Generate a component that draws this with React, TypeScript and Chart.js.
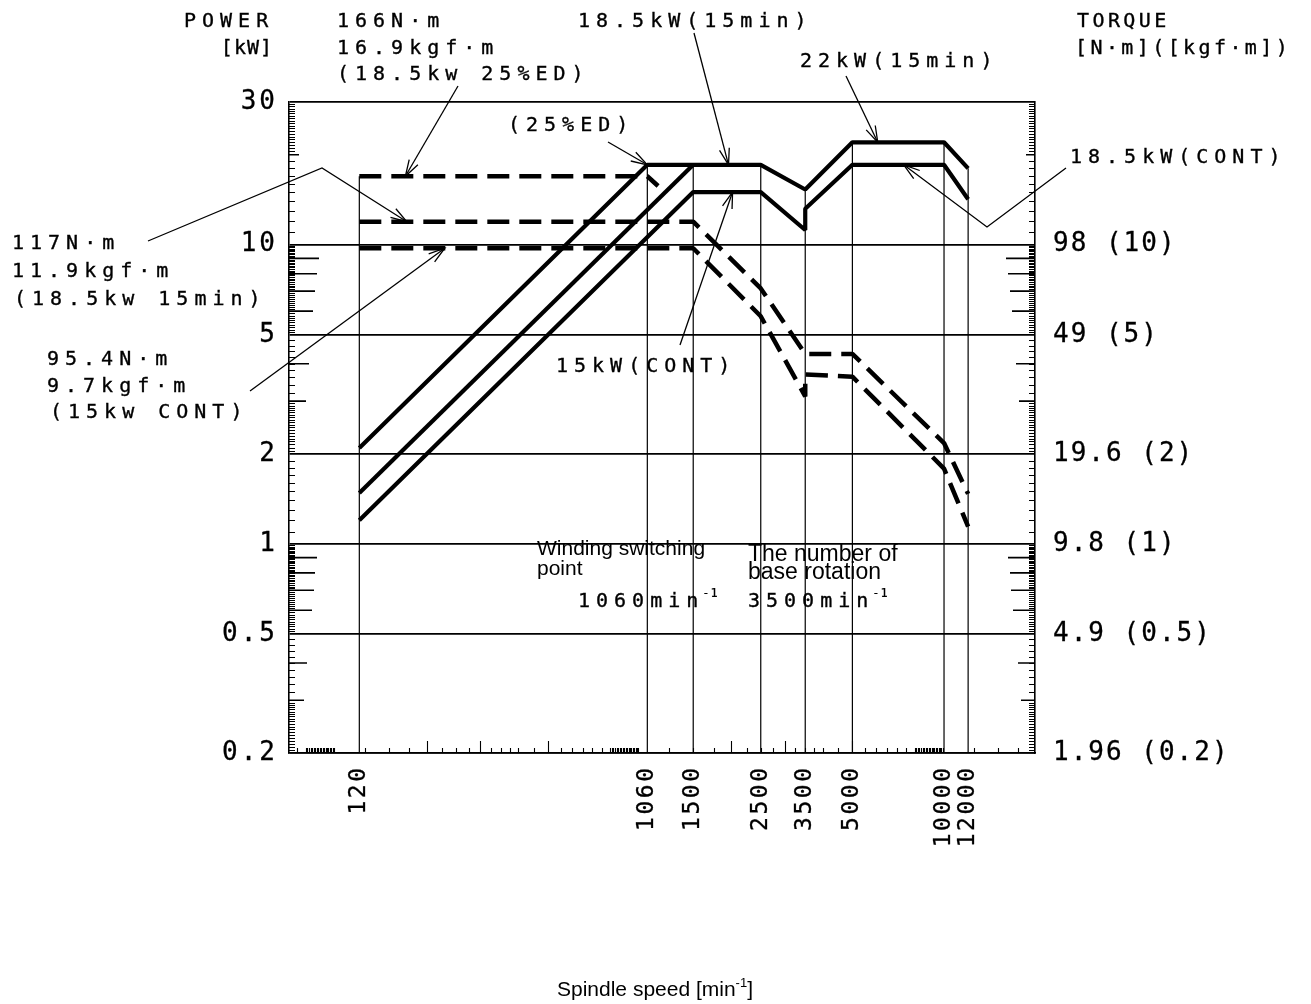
import React, { useEffect, useRef } from 'react';
import { Chart, registerables } from 'chart.js';

Chart.register(...registerables);

// ---------- axis ticks ----------
const speedTicks = [120, 1060, 1500, 2500, 3500, 5000, 10000, 12000];
const speedTickLabels = ['120', '1060', '1500', '2500', '3500', '5000', '10000', '12000'];
const powerTicks = [30, 10, 5, 2, 1, 0.5, 0.2];
const powerTickLabels = ['30', '10', '5', '2', '1', '0.5', '0.2'];
const torqueTicks = [98, 49, 19.6, 9.8, 4.9, 1.96];
const torqueTickLabels = ['98 (10)', '49 (5)', '19.6 (2)', '9.8 (1)', '4.9 (0.5)', '1.96 (0.2)'];

// ---------- power curves [kW] ----------
const ed25Speed = [120, 1060, 2500, 3500, 5000, 10000, 12000];
const ed25Power = [2.09, 18.5, 18.5, 15.3, 22, 22, 18];
const min15Speed = [120, 1500];
const min15Power = [1.48, 18.5];
const contSpeed = [120, 1500, 2500, 3500, 3500, 5000, 10000, 12000];
const contPower = [1.2, 15, 15, 11.2, 13.2, 18.5, 18.5, 14.2];

// ---------- torque curves [N·m] ----------
const ed25TorqueSpeed = [120, 1060, 1150];
const ed25Torque = [166, 166, 154];
const min15TorqueSpeed = [120, 1500, 2500, 3500, 5000, 10000, 12000];
const min15Torque = [117, 117, 70, 42.3, 42.3, 21.3, 14.4];
const contTorqueSpeed = [120, 1500, 2500, 3500, 3500, 5000, 10000, 12000];
const contTorque = [95.4, 95.4, 56.5, 30.5, 36.1, 35.5, 17.5, 11.2];

// ---------- vertical guide lines (speed, top power value) ----------
const guideSpeed = [120, 1060, 1500, 2500, 3500, 5000, 10000, 12000];
const guideTop = [16.94, 18.5, 18.5, 18.5, 15.3, 22, 22, 18];

// ---------- axis ranges ----------
const speedMin = 70.5;
const speedMax = 19900;
const powerMin = 0.2;
const powerMax = 30;
const torqueFactor = 9.8;

const MONO = 'DejaVu Sans Mono';
const SANS = 'Liberation Sans';

type Pt = { x: number; y: number };
const pts = (xs: number[], ys: number[]): Pt[] => xs.map((x, i) => ({ x, y: ys[i] }));

const solid = (label: string, xs: number[], ys: number[]) => ({
  label,
  data: pts(xs, ys),
  yAxisID: 'y',
  borderColor: '#000',
  backgroundColor: '#000',
  borderWidth: 4.2,
  pointRadius: 0,
  showLine: true,
  fill: false,
  borderJoinStyle: 'bevel',
});

const dashed = (label: string, xs: number[], ys: number[]) => ({
  label,
  data: pts(xs, ys),
  yAxisID: 'y2',
  borderColor: '#000',
  backgroundColor: '#000',
  borderWidth: 4.5,
  borderDash: [22, 10],
  pointRadius: 0,
  showLine: true,
  fill: false,
  borderJoinStyle: 'bevel',
});

const guides = guideSpeed.map((s, i) => ({
  label: 'guide' + i,
  data: [
    { x: s, y: powerMin },
    { x: s, y: guideTop[i] },
  ],
  yAxisID: 'y',
  borderColor: '#000',
  borderWidth: 1.2,
  pointRadius: 0,
  showLine: true,
  fill: false,
}));

// text annotations (pixel anchors, left aligned, vertical centre)
const notes: [string, number, number][] = [
  ['POWER', 184, 22],
  ['166N·m', 337, 22],
  ['16.9kgf·m', 337, 49],
  ['(18.5kw 25%ED)', 337, 75],
  ['18.5kW(15min)', 578, 22],
  ['22kW(15min)', 800, 62],
  ['(25%ED)', 508, 126],
  ['18.5kW(CONT)', 1070, 158],
  ['117N·m', 12, 244],
  ['11.9kgf·m', 12, 272],
  ['(18.5kw 15min)', 14, 300],
  ['95.4N·m', 47, 360],
  ['9.7kgf·m', 47, 387],
  ['(15kw CONT)', 50, 413],
  ['15kW(CONT)', 556, 367],
];

// leader lines: pixel start points + tip in data space
type Leader = { from: [number, number][]; speed: number; value: number; axis: 'y' | 'y2' };
const leaders: Leader[] = [
  { from: [[458, 86]], speed: 170, value: 166, axis: 'y2' },
  { from: [[148, 241], [322, 168]], speed: 172, value: 117, axis: 'y2' },
  { from: [[250, 391]], speed: 229, value: 95.4, axis: 'y2' },
  { from: [[608, 142]], speed: 1060, value: 18.5, axis: 'y' },
  { from: [[694, 33]], speed: 1959, value: 18.5, axis: 'y' },
  { from: [[846, 76]], speed: 6057, value: 22, axis: 'y' },
  { from: [[1066, 168], [987, 227]], speed: 7370, value: 18.5, axis: 'y' },
  { from: [[680, 345]], speed: 2020, value: 15, axis: 'y' },
];

const decorPlugin = {
  id: 'decor',
  beforeDraw(chart: any) {
    const { ctx, width, height } = chart;
    ctx.save();
    ctx.fillStyle = '#fff';
    ctx.fillRect(0, 0, width, height);
    ctx.restore();
  },
  afterDraw(chart: any) {
    const { ctx, chartArea: ca, scales } = chart;
    const xs = scales.x;
    const ys = scales.y;
    const ys2 = scales.y2;
    ctx.save();
    ctx.strokeStyle = '#000';
    ctx.fillStyle = '#000';

    // ---- ruler ticks on left / right edges ----
    const sideVals: number[] = [];
    for (let e = -1; e <= 1; e++) {
      const d = Math.pow(10, e);
      for (let i = 11; i < 20; i++) sideVals.push((i / 10) * d);
      for (let i = 41; i < 60; i++) sideVals.push((i / 20) * d);
      for (let i = 16; i < 25; i++) sideVals.push((i / 5) * d);
      for (let i = 51; i < 100; i++) sideVals.push((i / 10) * d);
    }
    const longLeft: [number, number][] = [
      [0.3, 15], [0.4, 18], [0.6, 23], [0.7, 25], [0.8, 26], [0.9, 28],
      [3, 17], [4, 20], [6, 24], [7, 26], [8, 28], [9, 30], [20, 10],
    ];
    ctx.lineWidth = 1.1;
    ctx.beginPath();
    for (const v of sideVals) {
      if (v <= powerMin * 1.001 || v >= powerMax * 0.999) continue;
      const y = Math.round(ys.getPixelForValue(v)) + 0.5;
      ctx.moveTo(ca.left, y);
      ctx.lineTo(ca.left + 6, y);
      ctx.moveTo(ca.right, y);
      ctx.lineTo(ca.right - 6, y);
    }
    ctx.stroke();
    ctx.lineWidth = 1.6;
    ctx.beginPath();
    for (const [v, len] of longLeft) {
      const y = ys.getPixelForValue(v);
      ctx.moveTo(ca.left, y);
      ctx.lineTo(ca.left + len, y);
      ctx.moveTo(ca.right, y);
      ctx.lineTo(ca.right - len + 1, y);
    }
    ctx.stroke();

    // ---- ruler ticks on bottom edge ----
    const botSmall: number[] = [];
    const botMid: number[] = [];
    for (let e = 1; e <= 4; e++) {
      const d = Math.pow(10, e);
      [1.25, 1.5, 1.75, 2.25, 2.5, 2.75, 3.25, 3.5, 3.75, 4, 4.5, 5.5, 6, 6.5, 7, 7.5].forEach((k) => botSmall.push(k * d));
      for (let i = 80; i < 100; i++) botSmall.push((i / 10) * d);
      [2, 3, 5].forEach((k) => botMid.push(k * d));
    }
    ctx.lineWidth = 1.1;
    ctx.beginPath();
    for (const v of botSmall) {
      if (v <= speedMin || v >= speedMax) continue;
      const x = Math.round(xs.getPixelForValue(v)) + 0.5;
      ctx.moveTo(x, ca.bottom);
      ctx.lineTo(x, ca.bottom - 5);
    }
    for (const v of botMid) {
      if (v <= speedMin || v >= speedMax) continue;
      const x = Math.round(xs.getPixelForValue(v)) + 0.5;
      ctx.moveTo(x, ca.bottom);
      ctx.lineTo(x, ca.bottom - 12);
    }
    ctx.stroke();

    // ---- text helper ----
    const text = (s: string, x: number, y: number, font: string, sp: number, align: CanvasTextAlign = 'left', bold = 0) => {
      ctx.font = font;
      (ctx as any).letterSpacing = sp + 'px';
      ctx.textAlign = align;
      ctx.textBaseline = 'middle';
      const px = align === 'right' ? x + sp : x;
      ctx.fillText(s, px, y);
      if (bold > 0) {
        ctx.lineWidth = bold;
        ctx.strokeText(s, px, y);
      }
    };

    // ---- tick labels ----
    powerTicks.forEach((v, i) => {
      text(powerTickLabels[i], ca.left - 14, ys.getPixelForValue(v), `26px "${MONO}"`, 3, 'right', 0.3);
    });
    torqueTicks.forEach((v, i) => {
      text(torqueTickLabels[i], ca.right + 18, ys2.getPixelForValue(v), `26px "${MONO}"`, 2, 'left', 0.3);
    });
    speedTicks.forEach((v, i) => {
      const x = xs.getPixelForValue(v);
      ctx.save();
      ctx.translate(x, ca.bottom + 15);
      ctx.rotate(-Math.PI / 2);
      text(speedTickLabels[i], 0, 0, `23px "${MONO}"`, 2.5, 'right', 0.3);
      ctx.restore();
    });

    // ---- annotations ----
    for (const [s, x, y] of notes) text(s, x, y, `20px "${MONO}"`, 6, 'left', 0.35);
    text('[kW]', 272, 49, `20px "${MONO}"`, 1, 'right', 0.35);
    text('TORQUE', 1077, 22, `20px "${MONO}"`, 3.4, 'left', 0.35);
    text('[N·m]([kgf·m])', 1075, 49, `20px "${MONO}"`, 3.4, 'left', 0.35);

    text('Winding switching', 537, 549, `21px "${SANS}"`, 0, 'left');
    text('point', 537, 569, `21px "${SANS}"`, 0, 'left');
    text('The number of', 748, 555, `23px "${SANS}"`, 0, 'left');
    text('base rotation', 748, 573, `23px "${SANS}"`, 0, 'left');

    const withSup = (main: string, x: number, y: number) => {
      text(main, x, y, `20px "${MONO}"`, 6, 'left', 0.35);
      ctx.font = `20px "${MONO}"`;
      (ctx as any).letterSpacing = '6px';
      const w = ctx.measureText(main).width;
      text('-1', x + w - 2, y - 8, `12px "${MONO}"`, 1, 'left', 0.2);
    };
    withSup('1060min', 578, 602);
    withSup('3500min', 748, 602);

    // axis title
    ctx.font = `21px "${SANS}"`;
    (ctx as any).letterSpacing = '0px';
    const t1 = 'Spindle speed [min';
    const t2 = '-1';
    const t3 = ']';
    const w1 = ctx.measureText(t1).width;
    const w3 = ctx.measureText(t3).width;
    ctx.font = `13px "${SANS}"`;
    const w2 = ctx.measureText(t2).width;
    const total = w1 + w2 + w3;
    const cx = 655;
    const ty = 990;
    const x0 = cx - total / 2;
    text(t1, x0, ty, `21px "${SANS}"`, 0, 'left');
    text(t2, x0 + w1, ty - 7, `13px "${SANS}"`, 0, 'left');
    text(t3, x0 + w1 + w2, ty, `21px "${SANS}"`, 0, 'left');

    // ---- leader lines with open arrow heads ----
    ctx.lineWidth = 1.3;
    (ctx as any).letterSpacing = '0px';
    for (const ld of leaders) {
      const sc = ld.axis === 'y' ? ys : ys2;
      const tip: [number, number] = [xs.getPixelForValue(ld.speed), sc.getPixelForValue(ld.value)];
      const path = [...ld.from, tip];
      ctx.beginPath();
      ctx.moveTo(path[0][0], path[0][1]);
      for (let i = 1; i < path.length; i++) ctx.lineTo(path[i][0], path[i][1]);
      ctx.stroke();
      const [x1, y1] = path[path.length - 2];
      const [x2, y2] = tip;
      const a = Math.atan2(y2 - y1, x2 - x1);
      const L = 17;
      const h = 0.3;
      ctx.beginPath();
      ctx.moveTo(x2 - L * Math.cos(a - h), y2 - L * Math.sin(a - h));
      ctx.lineTo(x2, y2);
      ctx.lineTo(x2 - L * Math.cos(a + h), y2 - L * Math.sin(a + h));
      ctx.stroke();
    }
    ctx.restore();
  },
};

export default function App() {
  const ref = useRef<HTMLCanvasElement>(null);
  useEffect(() => {
    if (!ref.current) return;
    const chart = new Chart(ref.current, {
      type: 'scatter',
      data: {
        datasets: [
          solid('25%ED', ed25Speed, ed25Power),
          solid('15min', min15Speed, min15Power),
          solid('CONT', contSpeed, contPower),
          dashed('T 25%ED', ed25TorqueSpeed, ed25Torque),
          dashed('T 15min', min15TorqueSpeed, min15Torque),
          dashed('T CONT', contTorqueSpeed, contTorque),
          ...guides,
        ] as any,
      },
      options: {
        responsive: false,
        maintainAspectRatio: false,
        devicePixelRatio: 1,
        animation: false,
        events: [],
        layout: { padding: { left: 289, right: 268, top: 102, bottom: 243 } },
        plugins: { legend: { display: false }, tooltip: { enabled: false } },
        scales: {
          x: {
            type: 'logarithmic',
            min: speedMin,
            max: speedMax,
            grid: { display: false },
            ticks: { display: false },
            border: { display: true, color: '#000', width: 1.6 },
          },
          y: {
            type: 'logarithmic',
            position: 'left',
            min: powerMin,
            max: powerMax,
            afterBuildTicks: (axis: any) => {
              axis.ticks = powerTicks.map((v) => ({ value: v }));
            },
            grid: { display: true, color: '#000', lineWidth: 1.7, drawTicks: false },
            ticks: { display: false },
            border: { display: true, color: '#000', width: 1.6 },
          },
          y2: {
            type: 'logarithmic',
            position: 'right',
            min: powerMin * torqueFactor,
            max: powerMax * torqueFactor,
            grid: { display: false },
            ticks: { display: false },
            border: { display: true, color: '#000', width: 1.6 },
          },
        },
      } as any,
      plugins: [decorPlugin],
    });
    return () => chart.destroy();
  }, []);
  return (
    <div style={{ position: 'fixed', left: 0, top: 0, width: 1311, height: 1004, background: '#fff' }}>
      <canvas ref={ref} width={1311} height={1004} style={{ display: 'block', width: 1311, height: 1004 }} />
    </div>
  );
}
